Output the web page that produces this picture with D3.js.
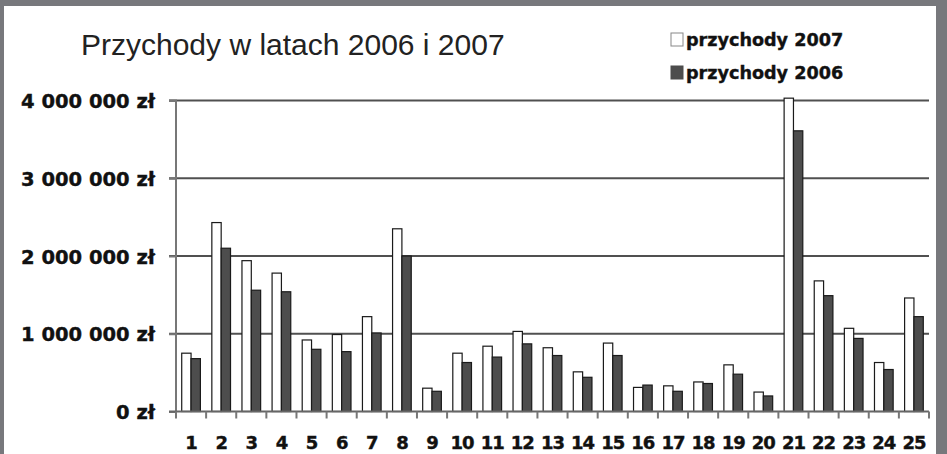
<!DOCTYPE html>
<html><head><meta charset="utf-8">
<script src="https://cdn.jsdelivr.net/npm/d3@7"></script>
<style>
html,body{margin:0;padding:0;background:#77787c;}
svg{display:block;}
</style></head>
<body>
<svg id="chart" width="947" height="454"></svg>
<script>
const categories = ["1","2","3","4","5","6","7","8","9","10","11","12","13","14","15","16","17","18","19","20","21","22","23","24","25"];
const przychody2007 = [750000,2430000,1940000,1780000,920000,990000,1220000,2350000,300000,750000,840000,1030000,820000,510000,880000,310000,330000,380000,600000,250000,4030000,1680000,1070000,630000,1460000];
const przychody2006 = [680000,2100000,1560000,1540000,800000,770000,1010000,2000000,260000,630000,700000,870000,720000,440000,720000,340000,260000,360000,480000,200000,3610000,1490000,940000,540000,1220000];
const seriesNames = ["przychody 2007","przychody 2006"];
const yTicks = [0,1000000,2000000,3000000,4000000];
const yTickLabels = ["0 zł","1 000 000 zł","2 000 000 zł","3 000 000 zł","4 000 000 zł"];
const titleText = "Przychody w latach 2006 i 2007";

const svg = d3.select("#chart");
svg.append("rect").attr("x",4).attr("y",6).attr("width",932).attr("height",448).attr("fill","#ffffff");

const plotLeft = 176, plotRight = 929, plotTop = 100.5, plotBottom = 411.5;
const x = d3.scaleBand().domain(categories).range([plotLeft,plotRight]).paddingInner(0.38).paddingOuter(0.19);
const xs = d3.scaleBand().domain(seriesNames).range([0,x.bandwidth()]);
const y = d3.scaleLinear().domain([0,4000000]).range([plotBottom,plotTop]);
const colors = {"przychody 2007":"#ffffff","przychody 2006":"#4d4d4d"};

// gridlines
svg.append("g").selectAll("line").data(yTicks.slice(1)).join("line")
  .attr("x1",169).attr("x2",plotRight).attr("y1",d=>y(d)).attr("y2",d=>y(d))
  .attr("stroke","#505050").attr("stroke-width",2);

// y axis
const yAxis = d3.axisLeft(y).tickValues(yTicks).tickSize(7).tickFormat((d,i)=>yTickLabels[i]);
const gy = svg.append("g").attr("transform",`translate(${plotLeft},0)`).call(yAxis);
gy.select(".domain").attr("stroke","#777").attr("stroke-width",2).attr("d",`M-7,${plotTop}H0V${plotBottom}`);
gy.selectAll(".tick line").attr("stroke","#777").attr("stroke-width",2);
gy.selectAll(".tick text").attr("x",-21).attr("dy","0.36em")
  .attr("font-family","DejaVu Sans").attr("font-weight","bold").attr("font-size","19.5px").attr("fill","#111")
  .attr("stroke","#111").attr("stroke-width",0.4);

// bars
const data = categories.map((c,i)=>({c, vals:[{s:seriesNames[0],v:przychody2007[i]},{s:seriesNames[1],v:przychody2006[i]}]}));
const g = svg.append("g").selectAll("g").data(data).join("g").attr("transform",d=>`translate(${x(d.c)},0)`);
g.selectAll("rect").data(d=>d.vals).join("rect")
  .attr("x",d=>xs(d.s)).attr("width",xs.bandwidth())
  .attr("y",d=>y(d.v)).attr("height",d=>y(0)-y(d.v))
  .attr("fill",d=>colors[d.s]).attr("stroke","#1a1a1a").attr("stroke-width",1.2);

// x axis
const xTickScale = d3.scaleLinear().domain([0,categories.length]).range([plotLeft,plotRight]);
const gx = svg.append("g").attr("transform",`translate(0,${plotBottom})`);
gx.append("line").attr("x1",169).attr("x2",plotRight).attr("stroke","#666").attr("stroke-width",2);
gx.selectAll("line.tk").data(d3.range(categories.length+1)).join("line").attr("class","tk")
  .attr("x1",d=>xTickScale(d)).attr("x2",d=>xTickScale(d)).attr("y1",0).attr("y2",7)
  .attr("stroke","#777").attr("stroke-width",2);
gx.selectAll("text").data(categories).join("text")
  .attr("x",d=>x(d)+x.bandwidth()/2).attr("y",37)
  .attr("text-anchor","middle").attr("font-family","DejaVu Sans").attr("font-weight","bold")
  .attr("font-size","18px").attr("letter-spacing","-1px").attr("fill","#111")
  .attr("stroke","#111").attr("stroke-width",0.4).text(d=>d);

// title
svg.append("text").attr("x",81).attr("y",55).attr("font-family","Liberation Sans, Arial")
  .attr("font-size","30px").attr("fill","#222").text(titleText);

// legend
const lg = svg.append("g");
seriesNames.forEach((s,i)=>{
  const yy = 33 + i*33;
  lg.append("rect").attr("x",671).attr("y",yy).attr("width",12).attr("height",13)
    .attr("fill",colors[s]).attr("stroke", i===0?"#888":"#4d4d4d").attr("stroke-width",1);
  lg.append("text").attr("x",686).attr("y",yy+13).attr("font-family","DejaVu Sans").attr("font-weight","bold")
    .attr("font-size","17.6px").attr("fill","#111").attr("stroke","#111").attr("stroke-width",0.4).text(s);
});
</script>
</body></html>
